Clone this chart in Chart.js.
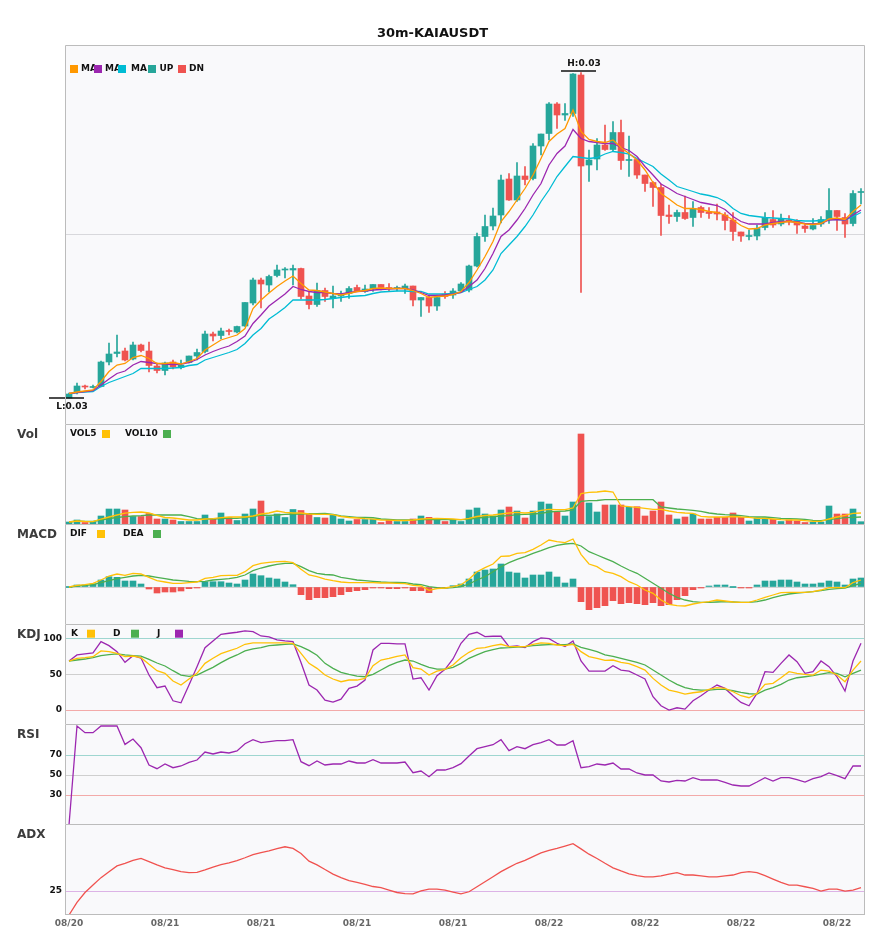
<!DOCTYPE html>
<html lang="zh">
<head>
<meta charset="UTF-8">
<title>30m-KAIAUSDT</title>
<script src="https://cdn.jsdelivr.net/npm/chart.js"></script>
<style>
  body { margin: 0; background: #fff; }
  #wrap { position: relative; width: 885px; height: 950px; }
  #wrap canvas { position: absolute; left: 0; }
</style>
</head>
<body>
<div id="wrap">
  <canvas id="priceChart" width="885" height="426" style="top:0"></canvas>
  <canvas id="volChart" width="885" height="104" style="top:422px"></canvas>
  <canvas id="macdChart" width="885" height="104" style="top:522px"></canvas>
  <canvas id="kdjChart" width="885" height="104" style="top:622px"></canvas>
  <canvas id="rsiChart" width="885" height="104" style="top:722px"></canvas>
  <canvas id="adxChart" width="885" height="128" style="top:822px"></canvas>
</div>
<script>
// prices in 0.00001 USDT
const open = [2800,2811,2824,2821,2823,2872,2889,2894,2878,2906, 2894,2864,2855,2872,2861,2871,2884,2893,2928,2925,
  2935,2932,2944,2990,3036,3026,3045,3056,3056,3059, 3004,2987,3015,2999,3004,3009,3021,3013,3019,3027,
  3021,3019,3019,3024,2996,3001,2984,3008,3006,3014, 3016,3064,3123,3144,3166,3238,3196,3244,3239,3304,
  3329,3388,3366,3369,3446,3266,3278,3306,3297,3331, 3275,3277,3246,3231,3221,3166,3163,3171,3161,3181,
  3172,3172,3166,3156,3132,3123,3124,3141,3157,3148, 3156,3155,3144,3138,3148,3157,3175,3161,3149,3211];
const high = [2810,2830,2826,2826,2874,2910,2926,2900,2912,2908, 2912,2870,2872,2876,2876,2884,2898,2934,2932,2940,
  2938,2944,2991,3040,3040,3046,3066,3061,3066,3060, 3013,3030,3020,3024,3014,3023,3026,3026,3027,3027,
  3029,3024,3028,3024,3001,3006,3006,3013,3019,3031, 3066,3130,3166,3180,3246,3249,3271,3263,3309,3328,
  3391,3391,3389,3449,3451,3296,3319,3346,3353,3356, 3324,3277,3246,3233,3228,3186,3176,3204,3193,3184,
  3181,3188,3171,3171,3132,3136,3146,3171,3175,3168, 3165,3157,3148,3159,3163,3219,3175,3169,3215,3219];
const low = [2800,2808,2818,2820,2822,2866,2882,2874,2876,2892, 2852,2850,2846,2858,2858,2870,2876,2890,2914,2918,
  2926,2930,2943,2986,2980,3012,3042,3040,3026,2998, 2978,2983,2993,2980,2993,2999,3013,3011,3013,3016,
  3013,3014,3009,2984,2963,2971,2975,2999,2999,3013, 3012,3062,3113,3136,3150,3195,3193,3226,3236,3286,
  3316,3339,3355,3363,3011,3233,3256,3295,3293,3257, 3243,3239,3213,3183,3125,3149,3153,3157,3143,3161,
  3159,3156,3136,3115,3113,3116,3116,3136,3141,3144, 3146,3129,3131,3136,3143,3149,3135,3121,3144,3188];
const close = [2808,2824,2822,2823,2872,2888,2892,2876,2906,2895, 2865,2855,2870,2862,2866,2884,2891,2928,2924,2934,
  2933,2943,2991,3036,3028,3043,3056,3057,3059,3003, 2987,3015,3003,3004,3006,3019,3014,3018,3027,3021,
  3019,3021,3024,2996,3001,2984,3001,3003,3014,3028, 3064,3123,3143,3164,3236,3196,3244,3237,3304,3328,
  3388,3366,3369,3448,3264,3276,3306,3297,3331,3275, 3277,3246,3229,3221,3165,3163,3171,3159,3179,3171,
  3169,3168,3155,3133,3124,3125,3139,3161,3146,3159, 3154,3146,3139,3145,3157,3175,3163,3148,3209,3213];
const ma5 = [2809,2812,2814,2816,2833,2853,2866,2869,2881,2885, 2879,2869,2869,2871,2868,2873,2879,2896,2906,2916,
  2921,2926,2939,2979,2996,3010,3023,3034,3044,3029, 3016,3015,3012,3009,3006,3009,3013,3015,3019,3020,
  3019,3019,3019,3015,3009,3001,3003,3004,3007,3013, 3031,3056,3083,3113,3153,3173,3196,3219,3246,3279,
  3313,3328,3339,3376,3333,3317,3313,3311,3316,3301, 3289,3276,3256,3231,3209,3198,3186,3179,3179,3177,
  3173,3171,3166,3156,3145,3138,3139,3146,3149,3151, 3153,3151,3148,3147,3149,3158,3160,3157,3173,3186];
const ma10 = [2809,2811,2813,2815,2826,2838,2849,2854,2866,2873, 2871,2869,2868,2867,2868,2871,2877,2886,2893,2899,
  2904,2913,2924,2949,2966,2984,2996,3008,3023,3017, 3013,3011,3011,3009,3008,3011,3013,3014,3016,3017,
  3018,3019,3019,3016,3011,3005,3005,3006,3008,3011, 3023,3036,3059,3089,3123,3136,3156,3179,3206,3229,
  3266,3289,3304,3337,3319,3313,3311,3309,3309,3301, 3295,3283,3263,3246,3228,3219,3209,3203,3197,3191,
  3188,3185,3177,3163,3153,3148,3148,3148,3151,3153, 3153,3152,3149,3148,3149,3156,3157,3156,3166,3176];
const ma20 = [2808,2811,2812,2813,2823,2831,2837,2843,2849,2859, 2859,2859,2859,2860,2861,2865,2867,2876,2881,2886,
  2891,2897,2909,2926,2939,2958,2969,2981,2996,2996, 2996,2996,2997,2999,3001,3003,3004,3005,3009,3012,
  3013,3014,3014,3013,3013,3008,3008,3008,3009,3011, 3017,3023,3036,3056,3089,3106,3123,3143,3166,3193,
  3216,3243,3263,3283,3281,3279,3281,3288,3293,3291, 3288,3279,3271,3263,3248,3236,3223,3218,3213,3208,
  3205,3201,3193,3179,3169,3165,3163,3161,3160,3159, 3158,3155,3154,3154,3155,3157,3157,3156,3163,3171];

const vol = [2,4,1.5,2,8,15,15,14,7.5,7.5, 10.5,5,5,4,2.5,2.5,2.5,9,5,11, 6.5,3.5,10,15,23,7.5,10,6.5,14.5,13.5,
  10,6.5,6,9,5,3,4.5,4.5,5,1.5, 4,2.5,2.5,5,8,6.7,5.3,2.5,4,2.5, 14,16,10,8,14,17,13,6,13,22,
  20,12,8,22,90,21,12,19,19,19, 16.7,17.3,8,13,22,9,5,7,10,5, 5,6.7,6.7,11,6.7,3,6,6,4.7,2.5,
  4,3,1.5,2,2,18,10,10,15,2.3];
const vol5 = [2,3,2.5,2.3,5,7,9,10.8,11.7,12, 11,8.7,6.5,6,5,4,4,5,5.3,6.3, 7,7,7,8,10,11,13,11.7,11,11,
  10,9.7,9.6,9.3,7.5,6.5,6,5.3,4.8,4, 3.8,3.5,3.5,4,5,5.3,5.7,5.3,5,4.3, 5.7,7.5,8.5,9,10,11,11.7,11,11.7,13.7,
  14.7,14.3,14.3,16,30.3,31.7,32,33,32,18, 17.3,16.7,15.7,14.7,14.7,13,11.7,11,10.7,7.7, 7,7,7,7.5,7,6.7,5.7,5.7,5,4.3,
  4,4,3.3,2.7,2.7,5,7,8.7,10.7,11];
const vol10 = [2,3,2.7,2.5,4,5.5,6.5,7.3,8,8.3, 9,9,9,9,9,7.3,5.3,5,5,5.3, 5.7,5.7,6.5,7.3,9,8.7,9,9.7,10,10,
  10.3,10.3,10.5,9.7,8,7.3,6.7,6.7,6.3,5, 4.7,4,4,4,4.3,4.3,4.3,4.7,4.3,4.3, 4.7,6,6.7,7.3,8,8.3,9.3,9.7,10,10.7,
  12,12.7,13,14,22.7,23.3,23.5,24.3,24.3,24.3, 24.3,24.3,24.3,24.3,17,16,15,14.3,13.7,12.7, 11,10,9.3,9,8.3,7.3,7,7,6.3,5.7,
  5.3,5,4.7,3.7,3.3,4.3,5.3,6.3,6.7,7];

const dif = [0,1.7,2.3,3.7,7,11,13,11.7,13.7,13, 9.7,6.3,5,3.7,3.7,4.3,5,8.7,9.7,11.3, 11.7,11.7,15.3,21.3,23.7,24.7,25.3,25.7,24.3,17.7,
  12,10.3,7.8,6.3,5,4.3,4.3,4.3,4.3,4, 4,3.7,3.3,1.7,1,-3.3,-1.7,-1,0.3,2.3, 7.7,15.3,19.3,23,30.7,31,33.7,34.3,37.7,42,
  47,45.3,44.3,48,32.7,23,20.3,15.3,13.7,10.3, 5.3,2,-3,-6.3,-13,-17.3,-18.7,-19,-17,-15.7, -14.7,-13,-14,-15,-15.3,-15.3,-13,-10.3,-8,-5.7,
  -5.3,-5.3,-5.3,-4.7,-3,-0.7,-0.7,-0.7,4.3,7];
const dea = [0,1,1.7,2.3,4.3,6.3,8.3,9.7,11,11.7, 11,9.7,8.3,7,6.3,5.7,5.3,5.7,7,7.7, 8.3,9.7,12,16.3,19,21,22.7,23.7,23.7,20.3,
  16.3,13.7,12.5,12,9.7,8.3,7,6.3,5.7,5, 4.7,4.7,4.3,3,2.3,0.3,-0.7,-1,-0.7,0.3, 3,7,10.3,15.3,20.3,24.3,27.7,30.3,33.7,36.3,
  39.3,41.7,43,43.7,41,35.3,32,28.7,25.3,21, 17,13.7,8.7,3.7,-1.3,-6.3,-10.3,-13,-14.7,-15.3, -15.3,-15,-14.7,-15,-15.3,-15.3,-14.7,-13,-10.7,-8.7,
  -7,-6,-5.3,-4.7,-3.7,-2.3,-1.7,-1,1.3,3.7];
const macdHist = [0,2,2,3,7,10.3,9.7,6,6,3, -2,-6,-5,-5,-4,-1.7,-0.3,5.3,5.3,5.3, 4,3,7,13,11.3,9,8,5,2.3,-7.7,
  -12.7,-10.7,-10.7,-9.7,-7.7,-4.7,-3.7,-2.7,-0.7,-0.7, -1.7,-1.7,-0.7,-3.7,-3.7,-5.7,-0.7,-0.3,1.3,3, 8,15,17,18,23,15,14,9,12,12,
  15,10,4,8,-14.7,-22.7,-20.7,-18.7,-13.7,-16.7, -15.7,-16.7,-17.7,-15.7,-18.7,-17.7,-12.7,-8.7,-2.7,-0.7, 1,2,2,0,-0.7,-0.7,2,6,6,7,
  7,5,3,3,4,6,5,2,8,9];

const kLine = [69,72.8,73.7,75.1,83.1,82.2,79.8,75.1,76,73.7, 64.3,55.4,51.6,40.8,35.2,43.7,51.6,65.7,72.8,79.3,
  83.1,86.9,92.5,94.4,94.4,94.4,94.4,94.4,93.9,79.8, 65.7,58.7,49.3,43.7,39.9,42.3,42.3,44.6,62.4,70.4,
  72.8,75.6,77.5,59.6,57.7,49.3,54.9,57.3,63.4,73.7, 81.2,86.9,87.8,90.6,92.5,89.2,89.2,89.2,92.5,94.4,
  93.9,91.5,90.6,92.5,82.2,75.1,72.8,70,70.4,67.1, 65.3,61,56.3,44.6,35.2,28.2,25.8,22.5,24.4,25.8,
  29.1,31.5,30.5,25.8,20.2,17.4,23.5,36.2,37.6,45.5, 54,51.6,50.2,49.3,56.3,54.9,49.3,39.9,56.3,69];
const dLine = [69,70.4,71.8,73.7,76.5,77.9,78.9,77.5,76.5,76, 71.4,66.2,62,55.4,49.3,47.4,49.3,54.9,60.1,66.7,
  72.8,77.5,83.1,85.9,87.8,90.6,91.5,92.5,93,89.2, 84,77,65.7,58.7,53,50.2,47.9,46.9,50.2,56.3,
  62.4,67.1,70.4,69,64.3,60.1,57.7,57.7,60.1,65.7, 72.8,77.5,82.2,85,87.3,87.8,88.7,89.2,90.6,91.5,
  92,92,92,93,88.2,85.4,82.2,77.5,75.6,72.8, 70,67.1,63.4,56.3,49.3,42.3,36.2,31.5,29.1,28.2,
  28.2,29.1,29.1,27.2,24.9,23,22.5,28.2,31.5,36.2, 42.3,45.5,46.9,48.4,50.7,52.6,51.6,46.9,51.6,56.3];
const jLine = [69,77.5,78.9,80.3,96.2,90.6,82.2,67.1,76.5,73.2, 49.3,31.5,33.8,13.1,10.3,35.2,61,87.8,97.2,106.6,
  108,109.4,111.3,110.3,104.2,102.8,98.6,97.2,96.2,66.9, 35.2,28.2,14.1,11.3,15.5,30.5,33.8,42.3,84.5,93.9,
  93.9,93,93,43.7,45.5,28.2,48.4,57.3,71.8,93.9, 106.6,109.4,103.3,103.8,103.8,89.2,90.1,87.8,96.2,101.4,
  100.5,93.9,89.2,97.2,69.2,54.9,54.9,54.9,62.4,56.3, 54.9,49.3,43.7,18.8,6.1,0,3.3,1.4,13.1,20.2,
  28.2,35.2,30.5,20.2,10.8,6.1,23.5,54,53,65.7, 77.5,68.1,51.6,54,69,61,46.9,26.8,69,93.9];

const rsi = [0,99,92.3,92.3,99,99,99,80.6,86,77.3, 60,56.3,61,57.3,59,62.6,65,73,71,73,
  72,74,81.3,85.3,82.3,83.3,84.3,84.3,85.3,63.3, 59.3,64,60,61,61,64,62,62,65.3,62,
  62,62,63,52.3,54,48.3,55,55,57.3,61.3, 69,76.3,78.3,80.3,85.3,74.3,78.3,76.3,80.3,82.3,
  85.3,80,80,84.3,57.3,58.3,61,60,62,56, 56,52,50,50,44,43,44.6,44,47.3,45,
  45,45,42.6,40,39,39,43,47.3,44,47.3, 47.3,45.3,43,46.3,48.3,52,49.3,46.3,59,59];
const adx = [15,20.3,24.4,27.5,30.6,33.1,35.5,36.6,37.8,38.6, 37.3,35.9,34.7,33.9,33.1,32.7,32.8,33.8,35,36,
  36.8,37.7,38.9,40.2,41,41.8,42.7,43.5,42.8,40.7, 37.5,35.9,34,32.1,30.6,29.4,28.6,27.8,26.9,26.4,
  25.4,24.4,23.9,23.8,25.1,25.8,25.8,25.4,24.6,23.8, 24.7,26.8,28.9,31,33.1,34.9,36.6,37.8,39.4,40.9,
  42,42.8,43.8,44.8,42.6,40.4,38.6,36.6,34.7,33.4, 32.2,31.4,30.9,30.9,31.3,32.1,32.7,31.7,31.7,31.3,
  30.9,30.9,31.3,31.7,32.7,33.1,32.7,31.4,30,28.6, 27.5,27.5,26.8,26.1,25,25.8,25.8,25,25.4,26.4];

const dayTicks = ['08/20','08/21','08/21','08/21','08/21','08/22','08/22','08/22','08/22'];
const tickEvery = 12;

const FONT = "'DejaVu Sans', sans-serif";
Chart.defaults.font.family = FONT;

const UP = '#26a69a', DN = '#ef5350';
const YELLOW = '#ffc107', GREEN = '#4caf50', PURPLE = '#9c27b0';
const P = v => v / 1e5;
const idx = open.map((_, i) => i);
const candleColors = close.map((c, i) => c >= open[i] ? UP : DN);

// panel background, frame, panel name and legend
const decoPlugin = {
  id: 'deco',
  beforeDraw(chart) {
    const { ctx, chartArea: a } = chart;
    ctx.save();
    ctx.fillStyle = '#f9f9fb';
    ctx.fillRect(a.left, a.top, a.right - a.left, a.bottom - a.top);
    ctx.restore();
  },
  afterDraw(chart, args, o) {
    const { ctx, chartArea: a } = chart;
    ctx.save();
    ctx.strokeStyle = '#bcbcbc';
    ctx.lineWidth = 1;
    ctx.beginPath();
    ctx.moveTo(a.left + 0.5, a.bottom);
    ctx.lineTo(a.left + 0.5, a.top + 0.5);
    ctx.lineTo(a.right - 0.5, a.top + 0.5);
    ctx.lineTo(a.right - 0.5, a.bottom);
    if (o.closeBottom) {
      ctx.moveTo(a.left, a.bottom - 0.5);
      ctx.lineTo(a.right, a.bottom - 0.5);
    }
    ctx.stroke();
    ctx.textBaseline = 'middle';
    ctx.textAlign = 'left';
    if (o.label) {
      ctx.font = 'bold 12px ' + FONT;
      ctx.fillStyle = '#3c3c3c';
      ctx.fillText(o.label, 17, a.top + 11);
    }
    ctx.font = 'bold 9px ' + FONT;
    const y = a.top + (o.legendY || 10);
    (o.items || []).forEach(it => {
      if (it.box) {
        ctx.fillStyle = it.box;
        ctx.fillRect(it.x, y - 4, 8, 8);
      } else {
        ctx.fillStyle = '#111';
        ctx.fillText(it.text, it.x, y);
      }
    });
    ctx.restore();
  }
};
Chart.register(decoPlugin);

// H / L markers on the price panel
const hlPlugin = {
  id: 'hl',
  afterDatasetsDraw(chart) {
    const { ctx, scales: { x, y } } = chart;
    const hi = Math.max(...high), lo = Math.min(...low);
    ctx.save();
    ctx.strokeStyle = '#111';
    ctx.fillStyle = '#111';
    ctx.lineWidth = 1.5;
    ctx.font = 'bold 9px ' + FONT;
    ctx.textAlign = 'center';
    ctx.textBaseline = 'middle';
    const mark = (i, v, dy, txtDy, txt) => {
      const cx = x.getPixelForValue(i), cy = y.getPixelForValue(P(v)) + dy;
      ctx.beginPath();
      ctx.moveTo(cx - 20, cy);
      ctx.lineTo(cx + 15, cy);
      ctx.stroke();
      ctx.fillText(txt, cx + 3, cy + txtDy);
    };
    mark(high.indexOf(hi), hi, -1.5, -7, 'H:' + P(hi).toFixed(2));
    mark(low.indexOf(lo), lo, 0, 9, 'L:' + P(lo).toFixed(2));
    ctx.restore();
  }
};

function lineSet(data, color) {
  return { type: 'line', data, borderColor: color, borderWidth: 1.3, pointRadius: 0, tension: 0, order: 0 };
}
function barSet(data, colors, width, order) {
  return { type: 'bar', data, backgroundColor: colors, barThickness: width, grouped: false, borderWidth: 0, minBarLength: 1, order };
}

function xAxis(show) {
  return {
    type: 'category', offset: true, display: show,
    grid: { display: false, drawTicks: false }, border: { display: false },
    ticks: {
      autoSkip: false, maxRotation: 0, minRotation: 0, padding: 3, color: '#666',
      font: { size: 9, weight: 'bold' },
      callback: (v, i) => i % tickEvery === 0 ? dayTicks[i / tickEvery] : null
    },
    afterFit: s => { s.height = show ? 15 : 0; s.paddingLeft = 0; s.paddingRight = 0; }
  };
}

function yAxis(min, max, ticks, colorOf, showLabels) {
  return {
    min, max,
    afterBuildTicks: s => { s.ticks = ticks.map(v => ({ value: v })); },
    afterFit: s => { s.width = 65; s.paddingTop = 0; s.paddingBottom = 0; },
    grid: { color: c => colorOf(c.tick.value), drawTicks: false, lineWidth: 1 },
    border: { display: false },
    ticks: { display: showLabels, padding: 3, color: '#111', font: { size: 9, weight: 'bold' } }
  };
}

function makeChart(id, datasets, y, deco, extra) {
  extra = extra || {};
  return new Chart(document.getElementById(id), {
    type: 'bar',
    data: { labels: idx, datasets },
    options: {
      responsive: false,
      animation: false,
      events: [],
      layout: { padding: extra.padding || { left: 0, right: 20, top: 2, bottom: 2 } },
      scales: { x: xAxis(!!extra.showX), y },
      plugins: {
        legend: { display: false },
        tooltip: { enabled: false },
        title: extra.title || { display: false },
        deco
      }
    },
    plugins: extra.plugins || []
  });
}

const priceMin = P(2748), priceMax = P(3506);

makeChart('priceChart', [
  lineSet(ma5.map(P), '#ff9800'),
  lineSet(ma10.map(P), PURPLE),
  lineSet(ma20.map(P), '#00bcd4'),
  barSet(open.map((o, i) => [P(o), P(close[i])]), candleColors, 6, 1),
  barSet(low.map((l, i) => [P(l), P(high[i])]), candleColors, 1, 2)
], yAxis(priceMin, priceMax, [(priceMin + priceMax) / 2], () => '#d8d8dc', false), {
  legendY: 24,
  items: [
    { box: '#ff9800', x: 70 }, { text: 'MA', x: 81 },
    { box: PURPLE, x: 94 }, { text: 'MA', x: 105 },
    { box: '#00bcd4', x: 118 }, { text: 'MA', x: 131 },
    { box: UP, x: 148 }, { text: 'UP', x: 159.5 },
    { box: DN, x: 178 }, { text: 'DN', x: 189 }
  ]
}, {
  padding: { left: 0, right: 20, top: 0, bottom: 2 },
  title: { display: true, text: '30m-KAIAUSDT', color: '#111', font: { size: 13, weight: 'bold' }, padding: { top: 26, bottom: 3.4 } },
  plugins: [hlPlugin]
});

makeChart('volChart', [
  lineSet(vol5, YELLOW),
  lineSet(vol10, GREEN),
  barSet(vol, candleColors, 6, 1)
], yAxis(0, 100, [], () => 'transparent', false), {
  label: 'Vol',
  items: [{ text: 'VOL5', x: 70 }, { box: YELLOW, x: 102 }, { text: 'VOL10', x: 125 }, { box: GREEN, x: 163 }]
});

makeChart('macdChart', [
  lineSet(dif, YELLOW),
  lineSet(dea, GREEN),
  barSet(macdHist, macdHist.map(v => v >= 0 ? UP : DN), 6, 1)
], yAxis(-37, 63, [0], () => '#d2d2d2', false), {
  label: 'MACD',
  items: [{ text: 'DIF', x: 70 }, { box: YELLOW, x: 97 }, { text: 'DEA', x: 123 }, { box: GREEN, x: 153 }]
});

const levelColor = (hiV, loV) => v => v === hiV ? '#9fd6d0' : v === loV ? '#f3aaa9' : '#cfcfcf';

makeChart('kdjChart', [
  lineSet(kLine, YELLOW),
  lineSet(dLine, GREEN),
  lineSet(jLine, PURPLE)
], yAxis(-19.5, 121, [0, 50, 100], levelColor(100, 0), true), {
  label: 'KDJ',
  legendY: 9.7,
  items: [{ text: 'K', x: 71 }, { box: YELLOW, x: 87 }, { text: 'D', x: 113 }, { box: GREEN, x: 131 },
    { text: 'J', x: 157 }, { box: PURPLE, x: 175 }]
});

makeChart('rsiChart', [
  lineSet(rsi, PURPLE)
], yAxis(1, 101, [30, 50, 70], levelColor(70, 30), true), { label: 'RSI' });

makeChart('adxChart', [
  lineSet(adx, '#f0524f')
], yAxis(15, 53, [25], () => '#dcb3e6', true), { label: 'ADX', closeBottom: true }, {
  showX: true,
  padding: { left: 0, right: 20, top: 2, bottom: 20 }
});
</script>
</body>
</html>
